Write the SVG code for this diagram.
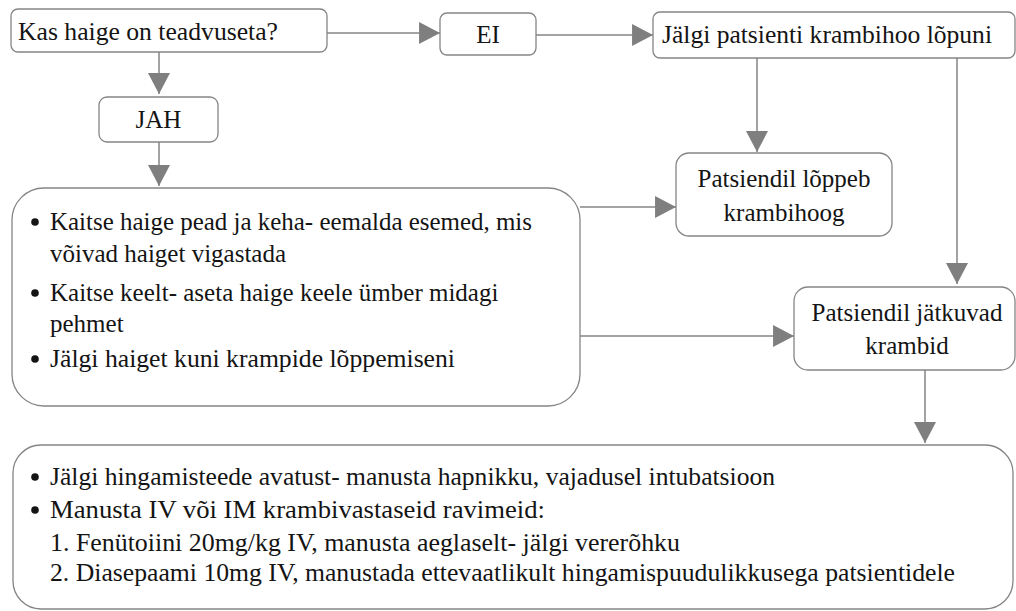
<svg xmlns="http://www.w3.org/2000/svg" width="1016" height="611" viewBox="0 0 1016 611">
<style>
.box{fill:#ffffff;stroke:#858585;stroke-width:1.3}
.t{font-family:'Liberation Serif',Tinos,'DejaVu Serif',serif;font-size:25px;fill:#141414}
.c{text-anchor:middle}
.ln{stroke:#858585;stroke-width:1.5;fill:none}
.dot{fill:#141414}
</style>
<defs>
<marker id="ah" markerUnits="userSpaceOnUse" markerWidth="22" markerHeight="22" viewBox="0 0 20 21" refX="20" refY="10.5" orient="auto">
<path d="M0,0 L20,10.5 L0,21 z" fill="#7f7f7f"/>
</marker>
</defs>
<rect width="1016" height="611" fill="#ffffff"/>
<g id="connectors">
<line class="ln" x1="327" y1="33" x2="440" y2="33" marker-end="url(#ah)"/>
<line class="ln" x1="536" y1="35" x2="653" y2="35" marker-end="url(#ah)"/>
<line class="ln" x1="159" y1="52" x2="159" y2="94" marker-end="url(#ah)"/>
<line class="ln" x1="159" y1="142" x2="159" y2="186" marker-end="url(#ah)"/>
<line class="ln" x1="757" y1="58" x2="757" y2="152" marker-end="url(#ah)"/>
<line class="ln" x1="957" y1="58" x2="957" y2="284" marker-end="url(#ah)"/>
<line class="ln" x1="580" y1="207" x2="676" y2="207" marker-end="url(#ah)"/>
<line class="ln" x1="580" y1="336" x2="794" y2="336" marker-end="url(#ah)"/>
<line class="ln" x1="925" y1="370" x2="925" y2="443" marker-end="url(#ah)"/>
</g>
<g id="q">
<rect class="box" x="11" y="9" width="316" height="43" rx="7"/>
<text class="t" x="18" y="40" textLength="260" lengthAdjust="spacingAndGlyphs">Kas haige on teadvuseta?</text>
</g>
<g id="ei">
<rect class="box" x="440" y="13" width="96" height="42" rx="7"/>
<text class="t c" x="488" y="43">EI</text>
</g>
<g id="jalgi">
<rect class="box" x="653" y="12" width="362" height="46" rx="7"/>
<text class="t" x="662" y="43" textLength="330" lengthAdjust="spacingAndGlyphs">Jälgi patsienti krambihoo lõpuni</text>
</g>
<g id="jah">
<rect class="box" x="99" y="97" width="119" height="45" rx="8"/>
<text class="t c" x="158.5" y="128">JAH</text>
</g>
<g id="loppeb">
<rect class="box" x="676" y="153" width="216" height="83" rx="13"/>
<text class="t c" x="784" y="187">Patsiendil lõppeb</text>
<text class="t c" x="784" y="221">krambihoog</text>
</g>
<g id="jatkuvad">
<rect class="box" x="794" y="287" width="221" height="83" rx="14"/>
<text class="t c" x="907" y="321">Patsiendil jätkuvad</text>
<text class="t c" x="907" y="354">krambid</text>
</g>
<g id="actions">
<rect class="box" x="12" y="188" width="568" height="218" rx="32"/>
<circle class="dot" cx="35" cy="222" r="3.8"/>
<text class="t" x="50" y="230" textLength="482" lengthAdjust="spacingAndGlyphs">Kaitse haige pead ja keha- eemalda esemed, mis</text>
<text class="t" x="50" y="262">võivad haiget vigastada</text>
<circle class="dot" cx="35" cy="293" r="3.8"/>
<text class="t" x="50" y="301">Kaitse keelt- aseta haige keele ümber midagi</text>
<text class="t" x="50" y="332">pehmet</text>
<circle class="dot" cx="35" cy="359" r="3.8"/>
<text class="t" x="50" y="367" textLength="405" lengthAdjust="spacingAndGlyphs">Jälgi haiget kuni krampide lõppemiseni</text>
</g>
<g id="treatment">
<rect class="box" x="13" y="445" width="1000" height="164" rx="28"/>
<circle class="dot" cx="35" cy="477" r="3.8"/>
<text class="t" x="50" y="485" textLength="725" lengthAdjust="spacingAndGlyphs">Jälgi hingamisteede avatust- manusta hapnikku, vajadusel intubatsioon</text>
<circle class="dot" cx="35" cy="510" r="3.8"/>
<text class="t" x="50" y="518" textLength="495" lengthAdjust="spacingAndGlyphs">Manusta IV või IM krambivastaseid ravimeid:</text>
<text class="t" x="50" y="551" textLength="630" lengthAdjust="spacingAndGlyphs">1. Fenütoiini 20mg/kg IV, manusta aeglaselt- jälgi vererõhku</text>
<text class="t" x="50" y="581" textLength="905" lengthAdjust="spacingAndGlyphs">2. Diasepaami 10mg IV, manustada ettevaatlikult hingamispuudulikkusega patsientidele</text>
</g>
</svg>
